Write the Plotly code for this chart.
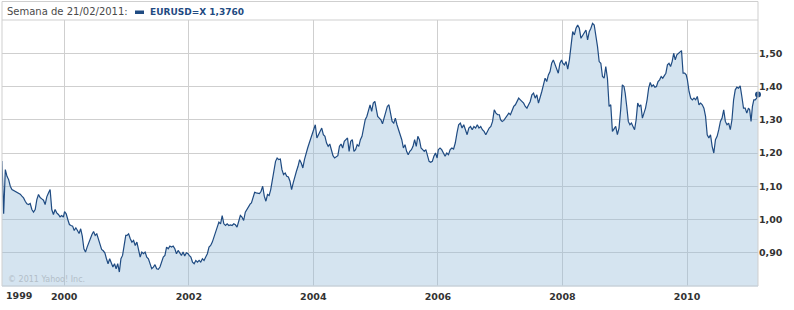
import pandas as pd
import plotly.graph_objects as go

# ---------------- data (EUR/USD weekly closes) ----------------
v1999 = [1.176, 1.017, 1.150, 1.130, 1.120, 1.100, 1.090, 1.087, 1.084, 1.082, 1.078, 1.076, 1.070,
         1.065, 1.055, 1.047, 1.045, 1.048, 1.030, 1.022, 1.030, 1.060, 1.075, 1.066, 1.062, 1.058,
         1.045, 1.068, 1.080, 1.090, 1.030, 1.015, 1.030, 1.020, 1.015, 1.008, 1.012, 1.007]
v2000 = [1.024, 1.017, 1.000, 0.985, 0.982, 0.980, 0.967, 0.975, 0.967, 0.958, 0.972, 0.950, 0.912,
         0.902, 0.917, 0.932, 0.942, 0.955, 0.964, 0.952, 0.957, 0.942, 0.932, 0.910, 0.906, 0.900,
         0.882, 0.867, 0.882, 0.867, 0.857, 0.867, 0.852, 0.867, 0.842, 0.882, 0.892, 0.922, 0.952]
v2001 = [0.952, 0.957, 0.942, 0.932, 0.937, 0.922, 0.932, 0.912, 0.887, 0.902, 0.897, 0.902, 0.887,
         0.882, 0.867, 0.852, 0.857, 0.864, 0.852, 0.850, 0.857, 0.872, 0.887, 0.892, 0.917, 0.912,
         0.920, 0.917, 0.920, 0.912, 0.897, 0.907, 0.897, 0.892, 0.902, 0.890, 0.900, 0.897]
v2002 = [0.892, 0.887, 0.872, 0.867, 0.877, 0.872, 0.877, 0.872, 0.882, 0.877, 0.887, 0.897, 0.917,
         0.922, 0.932, 0.947, 0.957, 0.977, 0.992, 0.987, 1.012, 0.987, 0.982, 0.987, 0.982, 0.984,
         0.982, 0.987, 0.984, 0.977, 0.992, 1.012, 1.007, 0.997, 1.022, 1.032, 1.042, 1.047]
v2003 = [1.050, 1.070, 1.082, 1.080, 1.080, 1.078, 1.085, 1.100, 1.070, 1.055, 1.075, 1.072, 1.090,
         1.115, 1.150, 1.175, 1.185, 1.180, 1.182, 1.150, 1.135, 1.140, 1.130, 1.128, 1.115, 1.090,
         1.110, 1.130, 1.145, 1.160, 1.180, 1.170, 1.155, 1.180, 1.200, 1.215, 1.230, 1.245, 1.255]
v2004 = [1.265, 1.285, 1.245, 1.255, 1.260, 1.275, 1.255, 1.250, 1.230, 1.220, 1.227, 1.210, 1.192,
         1.185, 1.190, 1.192, 1.220, 1.227, 1.215, 1.235, 1.240, 1.245, 1.205, 1.235, 1.240, 1.205,
         1.210, 1.225, 1.220, 1.240, 1.250, 1.275, 1.300, 1.310, 1.330, 1.345, 1.325, 1.350, 1.355]
v2005 = [1.330, 1.310, 1.305, 1.300, 1.288, 1.305, 1.320, 1.340, 1.345, 1.320, 1.295, 1.290, 1.305,
         1.285, 1.270, 1.255, 1.240, 1.215, 1.225, 1.205, 1.195, 1.205, 1.210, 1.220, 1.240, 1.220,
         1.250, 1.240, 1.215, 1.210, 1.205, 1.210, 1.190, 1.175, 1.172, 1.175, 1.190, 1.200, 1.185]
v2006 = [1.210, 1.215, 1.210, 1.200, 1.190, 1.200, 1.195, 1.210, 1.215, 1.212, 1.230, 1.260, 1.285,
         1.290, 1.275, 1.285, 1.270, 1.255, 1.275, 1.280, 1.270, 1.280, 1.275, 1.285, 1.275, 1.280,
         1.270, 1.265, 1.255, 1.265, 1.275, 1.280, 1.295, 1.330, 1.320, 1.315, 1.315]
v2007 = [1.300, 1.295, 1.298, 1.305, 1.315, 1.320, 1.315, 1.330, 1.340, 1.345, 1.355, 1.365, 1.360,
         1.355, 1.350, 1.340, 1.335, 1.345, 1.355, 1.375, 1.380, 1.365, 1.375, 1.350, 1.365, 1.385,
         1.405, 1.425, 1.415, 1.435, 1.445, 1.470, 1.480, 1.465, 1.455, 1.440, 1.470, 1.480]
v2008 = [1.470, 1.465, 1.475, 1.452, 1.480, 1.525, 1.565, 1.555, 1.575, 1.585, 1.575, 1.545, 1.555,
         1.565, 1.570, 1.540, 1.565, 1.575, 1.590, 1.585, 1.555, 1.520, 1.475, 1.470, 1.430, 1.425,
         1.460, 1.425, 1.340, 1.345, 1.265, 1.275, 1.280, 1.255, 1.275, 1.330, 1.405, 1.400]
v2009 = [1.380, 1.340, 1.295, 1.285, 1.290, 1.280, 1.270, 1.300, 1.350, 1.340, 1.345, 1.305, 1.320,
         1.335, 1.360, 1.395, 1.412, 1.400, 1.405, 1.398, 1.400, 1.415, 1.420, 1.430, 1.425, 1.435,
         1.440, 1.465, 1.470, 1.460, 1.475, 1.500, 1.480, 1.495, 1.500, 1.505, 1.508, 1.440, 1.440, 1.435]
v2010 = [1.420, 1.385, 1.365, 1.360, 1.365, 1.360, 1.370, 1.345, 1.350, 1.345, 1.335, 1.310, 1.255,
         1.245, 1.255, 1.220, 1.200, 1.240, 1.250, 1.270, 1.295, 1.305, 1.330, 1.295, 1.285, 1.290,
         1.270, 1.300, 1.360, 1.390, 1.398, 1.395, 1.402, 1.370, 1.335, 1.335, 1.320, 1.335]
v2011 = [1.330, 1.295, 1.340, 1.360, 1.360, 1.365, 1.376]

year_spans = [
    ("1999-01-01", "1999-12-27", v1999), ("2000-01-03", "2000-12-27", v2000),
    ("2001-01-03", "2001-12-27", v2001), ("2002-01-03", "2002-12-27", v2002),
    ("2003-01-03", "2003-12-27", v2003), ("2004-01-03", "2004-12-27", v2004),
    ("2005-01-03", "2005-12-27", v2005), ("2006-01-03", "2006-12-27", v2006),
    ("2007-01-03", "2007-12-27", v2007), ("2008-01-03", "2008-12-27", v2008),
    ("2009-01-03", "2009-12-27", v2009), ("2010-01-03", "2010-12-27", v2010),
    ("2011-01-03", "2011-02-21", v2011),
]

y_ticks = [0.90, 1.00, 1.10, 1.20, 1.30, 1.40, 1.50]
y_tick_labels = ["0,90", "1,00", "1,10", "1,20", "1,30", "1,40", "1,50"]
x_ticks = ["2000-01-01", "2002-01-01", "2004-01-01", "2006-01-01", "2008-01-01", "2010-01-01"]
x_tick_labels = ["2000", "2002", "2004", "2006", "2008", "2010"]
first_year_label = "1999"
header_label = "Semana de 21/02/2011:"
series_label = "EURUSD=X 1,3760"
watermark = "© 2011 Yahoo! Inc."

# ---------------- build ----------------
dates, values = [], []
for start, end, vals in year_spans:
    dates.extend(pd.date_range(start, end, periods=len(vals)))
    values.extend(vals)

W, H = 794, 310
L, R, T, B = 2, 36, 20, 24
pw, ph = W - L - R, H - T - B

def px(xp):
    return (xp - L) / pw

def py(yp):
    return 1 - (yp - T) / ph

LINE = "#1f4b82"
GRID = "#cfcfcf"
TICKFONT = dict(family="DejaVu Sans", size=9.5, color="#333333", weight="bold")

fig = go.Figure()
fig.add_trace(go.Scatter(
    x=dates, y=values, mode="lines",
    line=dict(color=LINE, width=1.2),
    fill="tozeroy", fillcolor="rgba(150,188,218,0.40)",
    hoverinfo="skip", showlegend=False,
))
fig.add_trace(go.Scatter(
    x=[dates[-1]], y=[values[-1]], mode="markers",
    marker=dict(color=LINE, size=6), cliponaxis=False,
    hoverinfo="skip", showlegend=False,
))

fig.update_layout(
    width=W, height=H,
    margin=dict(l=L, r=R, t=T, b=B, pad=0),
    paper_bgcolor="white", plot_bgcolor="white",
    showlegend=False,
    xaxis=dict(
        type="date", range=["1999-01-01", "2011-02-21"],
        tickvals=x_ticks, ticktext=x_tick_labels,
        showgrid=True, gridcolor=GRID, gridwidth=1,
        zeroline=False, showline=False, ticks="",
        ticklabelstandoff=3,
        tickfont=TICKFONT,
    ),
    yaxis=dict(
        range=[0.80, 1.60], side="right",
        tickvals=y_ticks, ticktext=y_tick_labels,
        showgrid=True, gridcolor=GRID, gridwidth=1,
        zeroline=False, showline=False, ticks="",
        tickfont=TICKFONT,
    ),
)

# frame: outer box including the header band, plus top/bottom lines of the plot
fig.add_shape(type="rect", xref="paper", yref="paper",
              x0=0, x1=1, y0=0, y1=py(1.5), line=dict(color=GRID, width=1), layer="above")
fig.add_shape(type="line", xref="paper", yref="paper",
              x0=0, x1=1, y0=1, y1=1, line=dict(color=GRID, width=1), layer="above")
fig.add_shape(type="line", xref="paper", yref="paper",
              x0=0, x1=1, y0=0, y1=0, line=dict(color="#c5d3df", width=1), layer="above")

# header
fig.add_annotation(x=px(5), y=py(11.5), xref="paper", yref="paper",
                   xanchor="left", yanchor="middle", showarrow=False,
                   text=header_label,
                   font=dict(family="DejaVu Sans", size=10, color="#4a4a4a"))
fig.add_shape(type="rect", xref="paper", yref="paper",
              x0=px(135), x1=px(144), y0=py(14), y1=py(10.5),
              fillcolor=LINE, line=dict(width=0))
fig.add_annotation(x=px(148), y=py(11.5), xref="paper", yref="paper",
                   xanchor="left", yanchor="middle", showarrow=False,
                   text=series_label,
                   font=dict(family="DejaVu Sans", size=9, color=LINE, weight="bold"))

# first-year label at the left edge
fig.add_annotation(x=px(4), y=py(295), xref="paper", yref="paper",
                   xanchor="left", yanchor="middle", showarrow=False,
                   text=first_year_label, font=TICKFONT)

# watermark
fig.add_annotation(x=px(6), y=py(279), xref="paper", yref="paper",
                   xanchor="left", yanchor="middle", showarrow=False,
                   text=watermark,
                   font=dict(family="DejaVu Sans", size=8, color="#b3bec8"))

fig.write_html("out.html")
